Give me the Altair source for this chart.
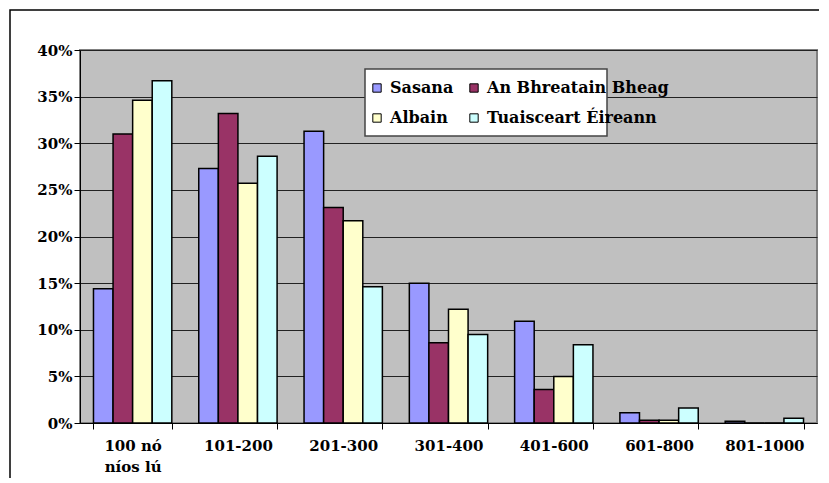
import altair as alt
import pandas as pd

categories = ["100 nó níos lú", "101-200", "201-300", "301-400", "401-600", "601-800", "801-1000"]
series = ["Sasana", "An Bhreatain Bheag", "Albain", "Tuaisceart Éireann"]
colors = ["#9999FF", "#993366", "#FFFFCC", "#CCFFFF"]

sasana = [14.4, 27.3, 31.3, 15.0, 10.9, 1.1, 0.2]
bhreatain = [31.0, 33.2, 23.1, 8.6, 3.6, 0.3, 0.0]
albain = [34.6, 25.7, 21.7, 12.2, 5.0, 0.3, 0.0]
tuaisceart = [36.7, 28.6, 14.6, 9.5, 8.4, 1.6, 0.5]

rows = []
for s, vals in zip(series, [sasana, bhreatain, albain, tuaisceart]):
    for c, v in zip(categories, vals):
        rows.append({"cat": c, "series": s, "value": v / 100.0})
df = pd.DataFrame(rows)

FONT = "DejaVu Serif"

bars = alt.Chart(df).mark_bar(stroke="black", strokeWidth=1.5).encode(
    x=alt.X("cat:N", sort=categories, title=None,
            scale=alt.Scale(paddingInner=0.256, paddingOuter=0.128),
            axis=alt.Axis(labelAngle=0, tickBand="extent", tickSize=6, tickColor="black",
                          domainColor="black", labelPadding=9, labelLineHeight=21,
                          labelExpr="datum.label == '100 nó níos lú' ? ['100 nó', 'níos lú'] : datum.label")),
    xOffset=alt.XOffset("series:N", sort=series),
    y=alt.Y("value:Q", title=None,
            scale=alt.Scale(domain=[0, 0.4], nice=False),
            axis=alt.Axis(format=".0%", values=[0, 0.05, 0.1, 0.15, 0.2, 0.25, 0.3, 0.35, 0.4],
                          grid=True, gridColor="#222222", gridWidth=1, tickSize=6,
                          tickColor="black", domainColor="black", labelPadding=2)),
    color=alt.Color("series:N", sort=series,
                    scale=alt.Scale(domain=series, range=colors),
                    legend=alt.Legend(title=None, orient="none", legendX=289, legendY=30,
                                      columns=2, direction="horizontal",
                                      columnPadding=12, rowPadding=14, labelLimit=400,
                                      symbolType="square", symbolSize=70,
                                      symbolStrokeColor="black", symbolStrokeWidth=1,
                                      labelFont=FONT, labelFontSize=16, labelFontWeight="bold",
                                      labelColor="black", labelOffset=5)),
)

legend_box = alt.Chart(pd.DataFrame({"a": [0]})).mark_rect(
    fill="white", stroke="#444444", strokeWidth=1.5
).encode(x=alt.value(285), x2=alt.value(527), y=alt.value(19), y2=alt.value(86))

outer = alt.Chart(pd.DataFrame({"a": [0]})).mark_rect(
    fill=None, stroke="black", strokeWidth=1.5, clip=False
).encode(x=alt.value(-70), x2=alt.value(780), y=alt.value(-40), y2=alt.value(460))

chart = alt.layer(outer, bars, legend_box).properties(
    width=737, height=373,
    autosize=alt.AutoSizeParams(type="none"),
    padding={"left": 72, "top": 42, "right": 2, "bottom": 55},
).configure(
    background="white",
    font=FONT,
    view=alt.ViewConfig(fill="#C0C0C0", stroke="#808080", strokeWidth=2),
    axis=alt.AxisConfig(labelFont=FONT, labelFontSize=15, labelFontWeight="bold",
                        labelColor="black"),
)

chart.save("out.html", embed_options={"renderer": "svg", "actions": False})
